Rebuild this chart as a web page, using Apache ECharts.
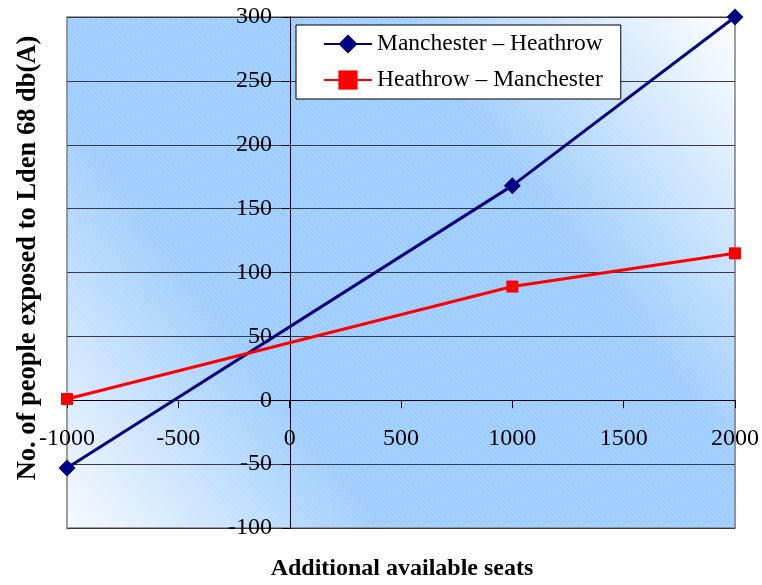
<!DOCTYPE html>
<html>
<head>
<meta charset="utf-8">
<script src="https://cdn.jsdelivr.net/npm/echarts@6/dist/echarts.min.js"></script>
<style>
  html, body { margin: 0; padding: 0; background: #ffffff; }
  #chart { width: 762px; height: 585px; }
</style>
</head>
<body>
<div id="chart"></div>
<script>
// Additional available seats (x) and people exposed to Lden 68 dB(A) (y)
const seats = [-1000, 1000, 2000];
const manchesterHeathrow = [-53, 168, 300];
const heathrowManchester = [1, 89, 115];
const seriesNames = ['Manchester \u2013 Heathrow', 'Heathrow \u2013 Manchester'];

const xRange = { min: -1000, max: 2000, step: 500 };
const yRange = { min: -100, max: 300, step: 50 };

const xTitle = 'Additional available seats';
const yTitle = 'No. of people exposed to Lden 68 db(A)';

const serif = '"Liberation Serif", "Times New Roman", serif';

// plot rectangle
const G = { left: 67, top: 17, right: 26, bottom: 57 };
const W = 762, H = 585;
const plotW = W - G.left - G.right;
const plotH = H - G.top - G.bottom;

// both axes cross at zero: shift each axis (line, ticks and labels) onto the other's zero
const xAxisShift = -plotH * (0 - yRange.min) / (yRange.max - yRange.min);
const yAxisShift = -plotW * (0 - xRange.min) / (xRange.max - xRange.min);

// fine diagonal hatch over the gradient
const hatch = document.createElement('canvas');
hatch.width = 5; hatch.height = 5;
(function () {
  const c = hatch.getContext('2d');
  c.strokeStyle = 'rgba(255,255,255,0.22)';
  c.lineWidth = 1;
  c.beginPath();
  c.moveTo(-1, -1); c.lineTo(6, 6);
  c.moveTo(-1, 4); c.lineTo(1, 6);
  c.moveTo(4, -1); c.lineTo(6, 1);
  c.stroke();
})();

const pairs = (xs, ys) => xs.map((x, i) => [x, ys[i]]);

const chart = echarts.init(document.getElementById('chart'), null, { renderer: 'canvas' });
chart.setOption({
  animation: false,
  backgroundColor: '#ffffff',
  grid: {
    left: G.left, top: G.top, right: G.right, bottom: G.bottom,
    show: true,
    backgroundColor: 'transparent',
    borderColor: '#808080',
    borderWidth: 1.5
  },
  graphic: [
    {
      type: 'rect', z: -10, silent: true,
      shape: { x: G.left, y: G.top, width: plotW, height: plotH },
      style: {
        fill: new echarts.graphic.LinearGradient(0, 1, 1, 0, [
          { offset: 0, color: '#f7faff' },
          { offset: 0.3, color: '#9dccff' },
          { offset: 0.68, color: '#9dccff' },
          { offset: 1, color: '#ffffff' }
        ])
      }
    },
    {
      type: 'rect', z: -9, silent: true,
      shape: { x: G.left, y: G.top, width: plotW, height: plotH },
      style: { fill: { image: hatch, repeat: 'repeat' } }
    },
    {
      type: 'text', silent: true,
      x: 28, y: 258, rotation: Math.PI / 2,
      style: {
        text: yTitle, font: 'bold 26.5px ' + serif, fill: '#000',
        align: 'center', verticalAlign: 'middle'
      }
    },
    {
      type: 'text', silent: true,
      x: 402, y: 569,
      style: {
        text: xTitle, font: 'bold 24px ' + serif, fill: '#000',
        align: 'center', verticalAlign: 'middle'
      }
    }
  ],
  legend: {
    orient: 'vertical',
    left: 296, top: 25,
    padding: [7, 18, 7, 27],
    itemWidth: 48, itemHeight: 24, itemGap: 12,
    backgroundColor: '#ffffff',
    borderColor: '#000000', borderWidth: 1,
    borderRadius: 0,
    textStyle: { fontFamily: serif, fontSize: 23.5, color: '#000' },
    data: seriesNames
  },
  xAxis: {
    type: 'value',
    min: xRange.min, max: xRange.max, interval: xRange.step,
    position: 'bottom',
    offset: xAxisShift,
    axisLine: { onZero: false, lineStyle: { color: '#000', width: 1 } },
    axisTick: { show: true, inside: false, length: 8, lineStyle: { color: '#000' } },
    axisLabel: {
      fontFamily: serif, fontSize: 24, color: '#000', margin: 26,
      formatter: v => String(v)
    },
    splitLine: { show: false }
  },
  yAxis: {
    type: 'value',
    min: yRange.min, max: yRange.max, interval: yRange.step,
    position: 'left',
    offset: yAxisShift,
    axisLine: { onZero: false, lineStyle: { color: '#000', width: 1 } },
    axisTick: { show: true, inside: false, length: 8, lineStyle: { color: '#000' } },
    axisLabel: {
      fontFamily: serif, fontSize: 24, color: '#000', margin: 18,
      formatter: v => String(v)
    },
    splitLine: { show: true, lineStyle: { color: '#3a3a3a', width: 1 } }
  },
  series: [
    {
      name: seriesNames[0],
      type: 'line',
      data: pairs(seats, manchesterHeathrow),
      symbol: 'diamond', symbolSize: 17,
      showAllSymbol: true,
      lineStyle: { color: '#000080', width: 3 },
      itemStyle: { color: '#000080' },
      clip: false, z: 3
    },
    {
      name: seriesNames[1],
      type: 'line',
      data: pairs(seats, heathrowManchester),
      symbol: 'rect', symbolSize: 12,
      showAllSymbol: true,
      lineStyle: { color: '#ff0000', width: 3 },
      itemStyle: { color: '#ff0000' },
      clip: false, z: 3
    }
  ]
});
</script>
</body>
</html>
